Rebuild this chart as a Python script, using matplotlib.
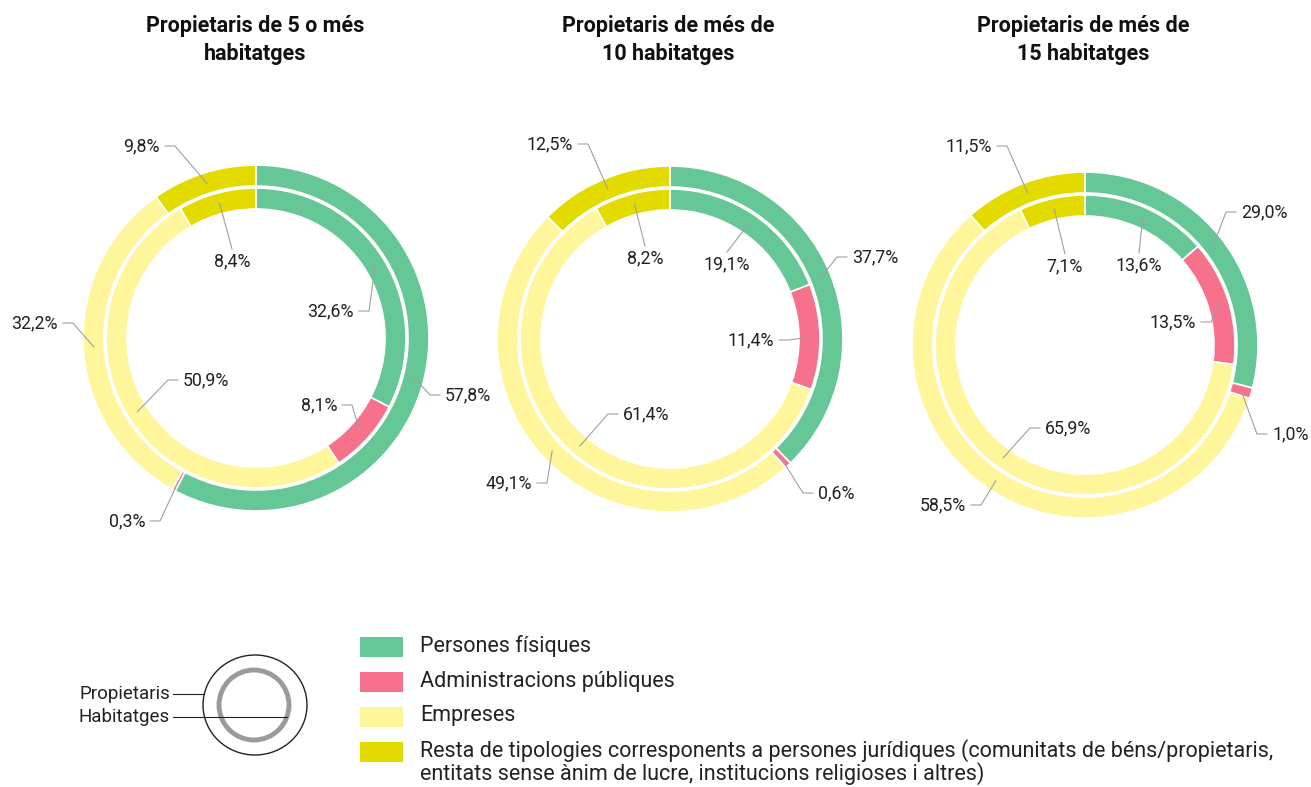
"""
Propietaris i habitatges per tipologia de propietari
"""

import numpy as np
import matplotlib
matplotlib.use('Agg')
from matplotlib import pyplot as plt
from matplotlib.patches import Ellipse, Circle, Rectangle

categories = [
    'Persones físiques',
    'Administracions públiques',
    'Empreses',
    'Resta de tipologies corresponents a persones jurídiques (comunitats de béns/propietaris,\n'
    'entitats sense ànim de lucre, institucions religioses i altres)',
]
colors = ['#66C796', '#F7708C', '#FFF59B', '#E3DA00']

titles = [
    'Propietaris de 5 o més\nhabitatges',
    'Propietaris de més de\n10 habitatges',
    'Propietaris de més de\n15 habitatges',
]

# anell exterior: propietaris, anell interior: habitatges (%)
propietaris_5 = [57.8, 0.3, 32.2, 9.8]
habitatges_5 = [32.6, 8.1, 50.9, 8.4]
propietaris_10 = [37.7, 0.6, 49.1, 12.5]
habitatges_10 = [19.1, 11.4, 61.4, 8.2]
propietaris_15 = [29.0, 1.0, 58.5, 11.5]
habitatges_15 = [13.6, 13.5, 65.9, 7.1]

outer_data = [propietaris_5, propietaris_10, propietaris_15]
inner_data = [habitatges_5, habitatges_10, habitatges_15]

W, H = 1311, 787
centers = [(256, 338), (670, 339), (1085, 345)]
title_x = [255, 668, 1083]

# label end points (px, y down) and how the leader meets the text
outer_lab = [
    [(440, 395, 'l'), (150, 521, 'r'), (63, 323, 'r'), (165, 146, 'r')],
    [(847, 257, 'l'), (813, 493, 'l'), (537, 483, 'r'), (578, 144, 'r')],
    [(1236, 212, 'l'), (1267, 434, 'l'), (971, 505, 'r'), (997, 146, 'r')],
]
inner_lab = [
    [(359, 311, 'r'), (342, 405, 'r'), (178, 380, 'l'), (232, 249, 't')],
    [(727, 252, 't'), (779, 340, 'r'), (618, 414, 'l'), (645, 246, 't')],
    [(1139, 253, 't'), (1201, 322, 'r'), (1040, 428, 'l'), (1065, 254, 't')],
]

LAB_FONT = ['Roboto', 'DejaVu Sans']
LAB_SIZE = 12.8
LINE_C = '#a0a0a0'


def Y(y):
    return H - y


def fmt(v):
    return f'{v:.1f}%'.replace('.', ',')


def leader(ax, wedge, end, value):
    theta = np.deg2rad((wedge.theta1 + wedge.theta2) / 2)
    rr = wedge.r - wedge.width / 2
    cx, cy = wedge.center
    ax0, ay0 = cx + rr * np.cos(theta), cy + rr * np.sin(theta)
    ex, ey, mode = end
    ey = Y(ey)
    if mode == 'l':
        xs, ys = [ax0, ex - 10, ex], [ay0, ey, ey]
        ax.text(ex + 5, ey, fmt(value), ha='left', va='center', fontsize=LAB_SIZE,
                color='#222222', family=LAB_FONT)
    elif mode == 'r':
        xs, ys = [ax0, ex + 10, ex], [ay0, ey, ey]
        ax.text(ex - 5, ey, fmt(value), ha='right', va='center', fontsize=LAB_SIZE,
                color='#222222', family=LAB_FONT)
    else:
        xs, ys = [ax0, ex], [ay0, ey]
        ax.text(ex, ey - 3, fmt(value), ha='center', va='top', fontsize=LAB_SIZE,
                color='#222222', family=LAB_FONT)
    ax.plot(xs, ys, color=LINE_C, lw=0.8, zorder=3)


fig = plt.figure(figsize=(W / 100, H / 100), dpi=100)
ax = fig.add_axes([0, 0, 1, 1])

R_OUT, W_OUT = 173, 21
R_IN, W_IN = 150, 21

for i in range(3):
    cx, cy = centers[i][0], Y(centers[i][1])
    wo, _ = ax.pie(outer_data[i], colors=colors, radius=R_OUT, center=(cx, cy),
                   startangle=90, counterclock=False, frame=True,
                   wedgeprops=dict(width=W_OUT, edgecolor='white', linewidth=1.2))
    wi, _ = ax.pie(inner_data[i], colors=colors, radius=R_IN, center=(cx, cy),
                   startangle=90, counterclock=False, frame=True,
                   wedgeprops=dict(width=W_IN, edgecolor='white', linewidth=1.2))
    for w, v, e in zip(wo, outer_data[i], outer_lab[i]):
        leader(ax, w, e, v)
    for w, v, e in zip(wi, inner_data[i], inner_lab[i]):
        leader(ax, w, e, v)
    ax.text(title_x[i], Y(40), titles[i], ha='center', va='center', fontsize=15.5,
            fontweight='bold', family=LAB_FONT, color='#111111', linespacing=1.35)

# schematic key
ax.add_patch(Ellipse((255, Y(705)), 104, 100, fill=False, ec='#222222', lw=1.0))
ax.add_patch(Circle((254, Y(705)), 35, fill=False, ec='#9a9a9a', lw=3.5))
ax.plot([173, 204], [Y(694), Y(694)], color='#222222', lw=0.8)
ax.plot([173, 287], [Y(717), Y(717)], color='#222222', lw=0.8)
ax.text(170, Y(694), 'Propietaris', ha='right', va='center', fontsize=13.5,
        family=LAB_FONT, color='#222222')
ax.text(170, Y(717), 'Habitatges', ha='right', va='center', fontsize=13.5,
        family=LAB_FONT, color='#222222')

# legend
leg_y = [647, 682, 717, 752]
for c, lab, ly in zip(colors, categories, leg_y):
    ax.add_patch(Rectangle((360, Y(ly) - 10), 43, 20, color=c, lw=0))
    for k, line in enumerate(lab.split('\n')):
        ax.text(420, Y(ly + 23 * k) + 1, line, ha='left', va='center',
                fontsize=15.5, family=LAB_FONT, color='#222222')

ax.set_xlim(0, W)
ax.set_ylim(0, H)
ax.set_aspect('equal')
ax.axis('off')

plt.savefig('out.png', dpi=100, facecolor='white')
